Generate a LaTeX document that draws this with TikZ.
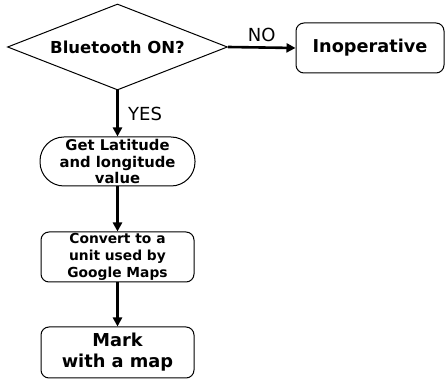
\documentclass[tikz,border=0pt]{standalone}
\usepackage{fontspec}
\setmainfont{DejaVu Sans}
\usetikzlibrary{shapes.geometric,arrows.meta}
\begin{document}
\begin{tikzpicture}[x=1pt,y=-1pt,
  box/.style={draw,line width=1pt,rounded corners=8pt,inner sep=0pt,align=center,font=\bfseries},
  flow/.style={line width=2.6pt,-{Triangle[length=9pt,width=9pt]}},
  lbl/.style={font=\fontsize{18}{20}\selectfont}]
\useasboundingbox (0,0) rectangle (445,379);
\node[draw,line width=1pt,diamond,aspect=2.56,inner sep=0pt,minimum width=220pt,minimum height=86pt,font=\bfseries\fontsize{16.5}{20}\selectfont] (bt) at (117.5,47) {Bluetooth ON?};
\node[box,minimum width=148pt,minimum height=50pt,font=\bfseries\fontsize{17.7}{20}\selectfont] (inop) at (370,48) {Inoperative};
\node[box,rounded corners=24pt,minimum width=155pt,minimum height=49pt,font=\bfseries\fontsize{14.8}{16.5}\selectfont] (get) at (117.5,161.5) {Get Latitude\\and longitude\\value};
\node[box,minimum width=153pt,minimum height=50pt,font=\bfseries\fontsize{13.8}{17}\selectfont] (conv) at (117.5,257) {Convert to a\\unit used by\\Google Maps};
\node[box,minimum width=153pt,minimum height=51pt,font=\bfseries\fontsize{17.8}{21}\selectfont] (mark) at (117.5,352.5) {Mark\\with a map};
\draw[flow] (bt.east) -- (inop.west) node[lbl,midway,above=1pt] {NO};
\draw[flow] (bt.south) -- (get.north) node[lbl,midway,right=6pt] {YES};
\draw[flow] (get.south) -- (conv.north);
\draw[flow] (conv.south) -- (mark.north);
\end{tikzpicture}
\end{document}
